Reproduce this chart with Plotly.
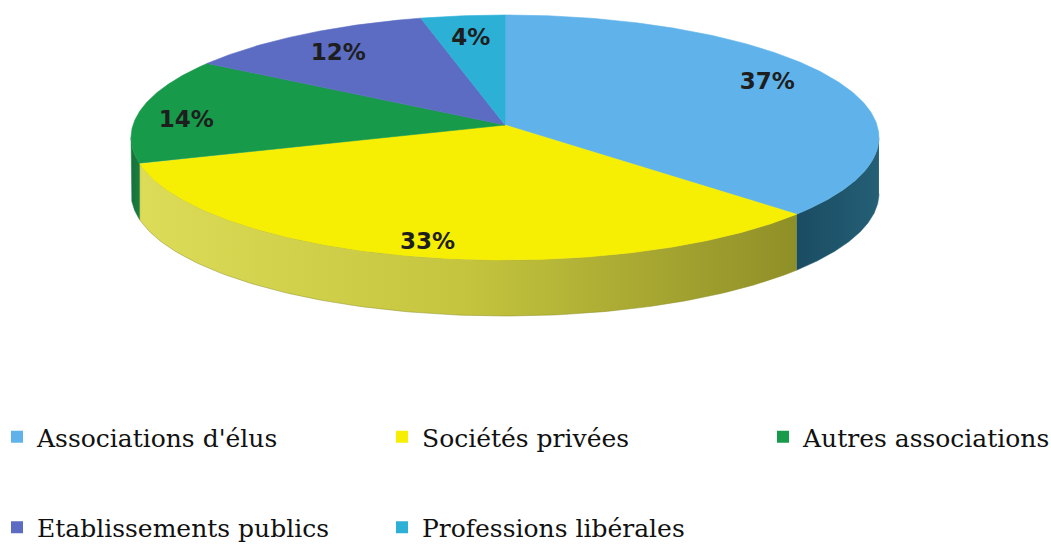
import numpy as np
import plotly.graph_objects as go

# ---- data ----
categories = ["Associations d'élus", "Sociétés privées", "Autres associations",
              "Etablissements publics", "Professions libérales"]
values = [37, 33, 14, 12, 4]
top_colors = ["#5fb3ea", "#f6ef04", "#179a4a", "#5b6cc2", "#2cb0d6"]
side_colors = [
    [[0, "#1a4c62"], [1, "#245f76"]],
    [[0, "#dcdc58"], [0.5, "#c4c43e"], [1, "#8f8f28"]],
    [[0, "#16703a"], [1, "#1b7e40"]],
    [[0, "#3f4f95"], [1, "#3f4f95"]],
    [[0, "#1e86a6"], [1, "#1e86a6"]],
]
legend_column = [1, 2, 3, 1, 2]

# ---- geometry / style ----
CX, CY0, A, PERSP = 505.0, 125.0, 372.0, 0.102
YA = -108.47
DEPTH = 56.0
LABEL_R = 0.84
label_nudge_x = [-15, -3, -12, 5, 2]   # px, best-fit style label placement
label_nudge_y = [-3, 10, 9, 6, 7]
W, H = 1051, 547


def proj(theta, r=1.0):
    """theta: clockwise angle from 12 o'clock (radians)."""
    u = r * np.sin(theta)
    v = r * np.cos(theta)
    d = 1 + PERSP * v
    x = CX + A * u / d
    y = (YA * v + CY0) / d
    return x, y


total = float(sum(values))
fracs = np.cumsum([0] + values) / total
angles = 2 * np.pi * fracs

th_right = np.arccos(-PERSP)
th_left = 2 * np.pi - np.arccos(-PERSP)

fig = go.Figure()

# side walls (front half only)
for i in range(len(values)):
    a0, a1 = angles[i], angles[i + 1]
    s0, s1 = max(a0, th_right), min(a1, th_left)
    if s1 <= s0:
        continue
    t = np.linspace(s0, s1, 120)
    xt, yt = proj(t)
    xs = np.concatenate([xt, xt[::-1]])
    ys = np.concatenate([yt, yt[::-1] + DEPTH])
    fig.add_trace(go.Scatter(
        x=xs, y=ys, mode="lines", fill="toself",
        line=dict(width=0.5, color=side_colors[i][-1][1]),
        fillgradient=dict(type="horizontal", colorscale=side_colors[i],
                          start=float(xs.min()), stop=float(xs.max())),
        hoverinfo="skip", showlegend=False))

# top faces
for i in range(len(values)):
    t = np.linspace(angles[i], angles[i + 1], 200)
    xt, yt = proj(t)
    x0, y0 = proj(np.array([0.0]), 0.0)
    xs = np.concatenate([x0, xt, x0])
    ys = np.concatenate([y0, yt, y0])
    fig.add_trace(go.Scatter(
        x=xs, y=ys, mode="lines", fill="toself", fillcolor=top_colors[i],
        line=dict(width=0.6, color=top_colors[i]),
        hoverinfo="text", text=f"{categories[i]}: {values[i]}%",
        showlegend=False))

# percentage labels
mids = (angles[:-1] + angles[1:]) / 2
lx, ly = proj(mids, LABEL_R)
fig.add_trace(go.Scatter(
    x=lx + np.array(label_nudge_x), y=ly + np.array(label_nudge_y),
    mode="text", text=[f"{v}%" for v in values],
    textfont=dict(family="DejaVu Sans", size=23, color="#1e1e1e", weight="bold"),
    hoverinfo="skip", showlegend=False))

# legend entries (three columns, each a vertical legend)
legend_names = {1: "legend", 2: "legend2", 3: "legend3"}
for i, name in enumerate(categories):
    fig.add_trace(go.Scatter(
        x=[None], y=[None], mode="markers", name=name,
        marker=dict(symbol="square", size=12, color=top_colors[i]),
        legendgroup=f"g{i}",
        legend=legend_names[legend_column[i]]))

legend_common = dict(
    orientation="v", xanchor="left", yanchor="top",
    font=dict(family="DejaVu Serif", size=25, color="#111111"),
    bgcolor="rgba(0,0,0,0)", traceorder="grouped", tracegroupgap=55,
    itemclick=False, itemdoubleclick=False)

LEG_TOP = 1 - 414 / H
fig.update_layout(
    width=W, height=H,
    margin=dict(l=0, r=0, t=0, b=0, autoexpand=False),
    paper_bgcolor="white", plot_bgcolor="white",
    xaxis=dict(range=[0, W], visible=False, fixedrange=True),
    yaxis=dict(range=[H, 0], visible=False, fixedrange=True),
    legend=dict(x=-3 / W, y=LEG_TOP, **legend_common),
    legend2=dict(x=382 / W, y=LEG_TOP, **legend_common),
    legend3=dict(x=763 / W, y=LEG_TOP, **legend_common),
    showlegend=True,
)

fig.write_html("out.html", config={"displayModeBar": False},
               post_script="document.body.style.margin='0';")
